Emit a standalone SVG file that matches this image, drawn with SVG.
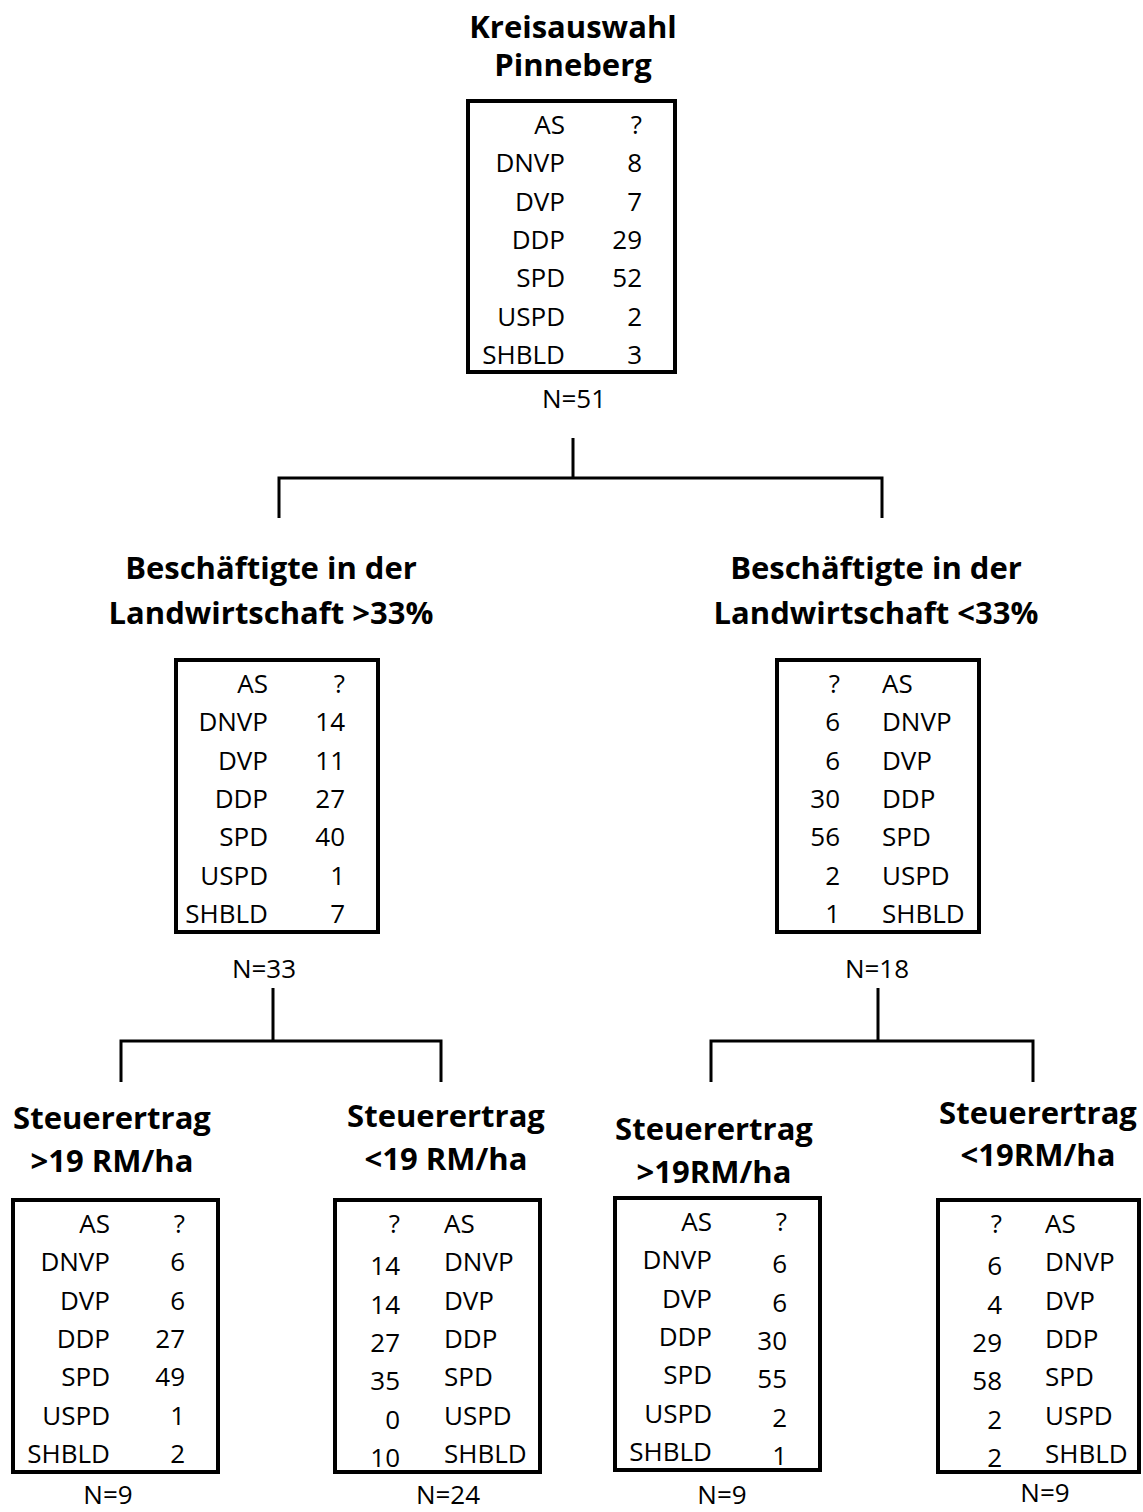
<svg xmlns="http://www.w3.org/2000/svg" width="1143" height="1512" viewBox="0 0 1143 1512">
<style>
text{font-family:"Open Sans","Liberation Sans",sans-serif;fill:#000}
.c{font-size:26px}
.e{text-anchor:end}
.m{text-anchor:middle}
.t{font-size:31px;font-weight:bold;text-anchor:middle}
.box{fill:#fff;stroke:#000;stroke-width:4}
.con{fill:none;stroke:#000;stroke-width:3}
</style>
<rect width="1143" height="1512" fill="#fff"/>
<g id="connectors">
<path class="con" d="M573 438V478M279 518V478H882V518"/>
<path class="con" d="M273 988V1041M121 1082V1041H441V1082"/>
<path class="con" d="M878 988V1041M711 1082V1041H1033V1082"/>
</g>
<g id="root">
<text class="t" x="573" y="38">Kreisauswahl</text>
<text class="t" x="573" y="76">Pinneberg</text>
<rect class="box" x="468" y="101" width="207" height="271"/>
<g class="c e">
<text x="565" y="134">AS</text><text x="565" y="172">DNVP</text><text x="565" y="211">DVP</text><text x="565" y="249">DDP</text><text x="565" y="287">SPD</text><text x="565" y="326">USPD</text><text x="565" y="364">SHBLD</text>
<text x="642" y="134">?</text><text x="642" y="172">8</text><text x="642" y="211">7</text><text x="642" y="249">29</text><text x="642" y="287">52</text><text x="642" y="326">2</text><text x="642" y="364">3</text>
</g>
<text class="c m" x="574" y="408">N=51</text>
</g>
<g id="left">
<text class="t" x="271" y="579">Beschäftigte in der</text>
<text class="t" x="271" y="624">Landwirtschaft &gt;33%</text>
<rect class="box" x="176" y="660" width="202" height="272"/>
<g class="c e">
<text x="268" y="693">AS</text><text x="268" y="731">DNVP</text><text x="268" y="770">DVP</text><text x="268" y="808">DDP</text><text x="268" y="846">SPD</text><text x="268" y="885">USPD</text><text x="268" y="923">SHBLD</text>
<text x="345" y="693">?</text><text x="345" y="731">14</text><text x="345" y="770">11</text><text x="345" y="808">27</text><text x="345" y="846">40</text><text x="345" y="885">1</text><text x="345" y="923">7</text>
</g>
<text class="c m" x="264" y="978">N=33</text>
</g>
<g id="right">
<text class="t" x="876" y="579">Beschäftigte in der</text>
<text class="t" x="876" y="624">Landwirtschaft &lt;33%</text>
<rect class="box" x="777" y="660" width="202" height="272"/>
<g class="c">
<text x="882" y="693">AS</text><text x="882" y="731">DNVP</text><text x="882" y="770">DVP</text><text x="882" y="808">DDP</text><text x="882" y="846">SPD</text><text x="882" y="885">USPD</text><text x="882" y="923">SHBLD</text>
</g>
<g class="c e">
<text x="840" y="693">?</text><text x="840" y="731">6</text><text x="840" y="770">6</text><text x="840" y="808">30</text><text x="840" y="846">56</text><text x="840" y="885">2</text><text x="840" y="923">1</text>
</g>
<text class="c m" x="877" y="978">N=18</text>
</g>
<g id="b1">
<text class="t" x="112" y="1129">Steuerertrag</text>
<text class="t" x="112" y="1172">&gt;19 RM/ha</text>
<rect class="box" x="13" y="1200" width="205" height="272"/>
<g class="c e">
<text x="110" y="1233">AS</text><text x="110" y="1271">DNVP</text><text x="110" y="1310">DVP</text><text x="110" y="1348">DDP</text><text x="110" y="1386">SPD</text><text x="110" y="1425">USPD</text><text x="110" y="1463">SHBLD</text>
<text x="185" y="1233">?</text><text x="185" y="1271">6</text><text x="185" y="1310">6</text><text x="185" y="1348">27</text><text x="185" y="1386">49</text><text x="185" y="1425">1</text><text x="185" y="1463">2</text>
</g>
<text class="c m" x="108" y="1504">N=9</text>
</g>
<g id="b2">
<text class="t" x="446" y="1127">Steuerertrag</text>
<text class="t" x="446" y="1170">&lt;19 RM/ha</text>
<rect class="box" x="335" y="1200" width="205" height="272"/>
<g class="c">
<text x="444" y="1233">AS</text><text x="444" y="1271">DNVP</text><text x="444" y="1310">DVP</text><text x="444" y="1348">DDP</text><text x="444" y="1386">SPD</text><text x="444" y="1425">USPD</text><text x="444" y="1463">SHBLD</text>
</g>
<g class="c e">
<text x="400" y="1233">?</text><text x="400" y="1275">14</text><text x="400" y="1314">14</text><text x="400" y="1352">27</text><text x="400" y="1390">35</text><text x="400" y="1429">0</text><text x="400" y="1467">10</text>
</g>
<text class="c m" x="448" y="1504">N=24</text>
</g>
<g id="b3">
<text class="t" x="714" y="1140">Steuerertrag</text>
<text class="t" x="714" y="1183">&gt;19RM/ha</text>
<rect class="box" x="615" y="1198" width="205" height="272"/>
<g class="c e">
<text x="712" y="1231">AS</text><text x="712" y="1269">DNVP</text><text x="712" y="1308">DVP</text><text x="712" y="1346">DDP</text><text x="712" y="1384">SPD</text><text x="712" y="1423">USPD</text><text x="712" y="1461">SHBLD</text>
<text x="787" y="1231">?</text><text x="787" y="1273">6</text><text x="787" y="1312">6</text><text x="787" y="1350">30</text><text x="787" y="1388">55</text><text x="787" y="1427">2</text><text x="787" y="1465">1</text>
</g>
<text class="c m" x="722" y="1504">N=9</text>
</g>
<g id="b4">
<text class="t" x="1038" y="1124">Steuerertrag</text>
<text class="t" x="1038" y="1166">&lt;19RM/ha</text>
<rect class="box" x="938" y="1200" width="201" height="272"/>
<g class="c">
<text x="1045" y="1233">AS</text><text x="1045" y="1271">DNVP</text><text x="1045" y="1310">DVP</text><text x="1045" y="1348">DDP</text><text x="1045" y="1386">SPD</text><text x="1045" y="1425">USPD</text><text x="1045" y="1463">SHBLD</text>
</g>
<g class="c e">
<text x="1002" y="1233">?</text><text x="1002" y="1275">6</text><text x="1002" y="1314">4</text><text x="1002" y="1352">29</text><text x="1002" y="1390">58</text><text x="1002" y="1429">2</text><text x="1002" y="1467">2</text>
</g>
<text class="c m" x="1045" y="1502">N=9</text>
</g>
</svg>
